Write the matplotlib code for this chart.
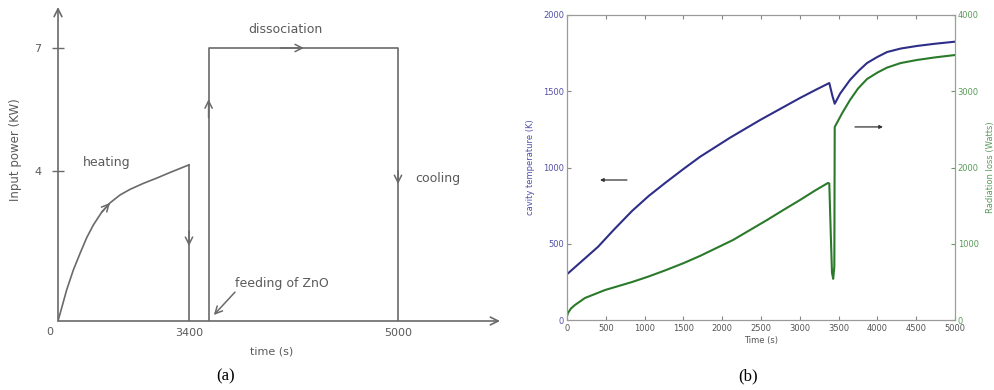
import numpy as np
import matplotlib
matplotlib.use("Agg")
import matplotlib.pyplot as plt

# ---- panel (a): schematic input power profile ----
heat_t = [0, 96, 225, 398, 571, 744, 917, 1133, 1350, 1609, 1869, 2215,
          2561, 2907, 3400]
heat_p = [0, 0.35, 0.83, 1.36, 1.80, 2.22, 2.56, 2.90, 3.15, 3.36, 3.51,
          3.67, 3.81, 3.96, 4.15]
cut_t = 3400
feed_t = 3550
cool_t = 5000
dissoc_p = 7
a_xticks = [3400, 5000]
a_yticks = [4, 7]

# ---- panel (b): simulated temperature and radiation loss ----
temp_t = [0, 200, 400, 600, 838, 1050, 1263, 1500, 1714, 2100, 2487, 2750,
          3003, 3200, 3380, 3420, 3450, 3520, 3647, 3760, 3866, 4000, 4124,
          4300, 4510, 4750, 5000]
temp_k = [300, 390, 480, 590, 715, 812, 898, 990, 1070, 1195, 1311, 1385,
          1456, 1508, 1554, 1470, 1418, 1485, 1574, 1635, 1685, 1725, 1757,
          1780, 1797, 1812, 1825]
rad_t = [0, 13, 50, 103, 232, 490, 838, 1050, 1263, 1500, 1714, 2139, 2577,
         2800, 3003, 3200, 3363, 3380, 3400, 3415, 3430, 3445, 3450, 3550,
         3647, 3750, 3866, 4000, 4124, 4300, 4510, 4750, 5000]
rad_w = [50, 92, 150, 197, 289, 393, 498, 570, 650, 745, 840, 1049, 1311,
         1450, 1574, 1700, 1797, 1790, 1100, 620, 540, 700, 2531, 2720, 2885,
         3035, 3160, 3245, 3310, 3370, 3410, 3445, 3475]

W, H = 995, 390
fig = plt.figure(figsize=(W / 100, H / 100), dpi=100)
fig.patch.set_facecolor("white")

GREY = "#5a5a5a"
LINE = "#6a6a6a"


def fwd_x(t):
    t = np.asarray(t, dtype=float)
    return np.where(t <= 3400, t * 131 / 3400, 131 + (t - 3400) * 209 / 1600)


def inv_x(p):
    p = np.asarray(p, dtype=float)
    return np.where(p <= 131, p * 3400 / 131, 3400 + (p - 131) * 1600 / 209)


def fwd_y(v):
    v = np.asarray(v, dtype=float)
    return np.where(v <= 4, v * 37.5, 150 + (v - 4) * 41)


def inv_y(p):
    p = np.asarray(p, dtype=float)
    return np.where(p <= 150, p / 37.5, 4 + (p - 150) / 41)


ax = fig.add_axes([58 / W, 69 / H, 442 / W, 314 / H])
ax.set_xscale("function", functions=(fwd_x, inv_x))
ax.set_yscale("function", functions=(fwd_y, inv_y))
xmax = float(inv_x(442))
ymax = float(inv_y(314))
ax.set_xlim(0, xmax)
ax.set_ylim(0, ymax)
for s in ax.spines.values():
    s.set_visible(False)
ax.patch.set_alpha(0)

# axes drawn as arrows
ax.annotate("", xy=(xmax, 0), xytext=(0, 0),
            arrowprops=dict(arrowstyle="->", color=LINE, lw=1.2,
                            shrinkA=0, shrinkB=0, mutation_scale=14),
            annotation_clip=False)
ax.annotate("", xy=(0, ymax), xytext=(0, 0),
            arrowprops=dict(arrowstyle="->", color=LINE, lw=1.2,
                            shrinkA=0, shrinkB=0, mutation_scale=14),
            annotation_clip=False)

# power profile
ax.plot(heat_t, heat_p, color=LINE, lw=1.2)
ax.plot([cut_t, cut_t], [heat_p[-1], 0], color=LINE, lw=1.2)
ax.plot([feed_t, feed_t, cool_t, cool_t], [0, dissoc_p, dissoc_p, 0],
        color=LINE, lw=1.2)


def chevron(x0, y0, x1, y1):
    ax.annotate("", xy=(x1, y1), xytext=(x0, y0),
                arrowprops=dict(arrowstyle="->", color=LINE, lw=1.1,
                                shrinkA=0, shrinkB=0, mutation_scale=13))


chevron(1133, 2.90, 1350, 3.15)
chevron(cut_t, 2.4, cut_t, 2.0)
chevron(feed_t, 5.3, feed_t, 5.75)
chevron(4100, dissoc_p, 4280, dissoc_p)
chevron(cool_t, 4.0, cool_t, 3.65)
chevron(3752, 0.77, 3590, 0.16)

ax.set_xticks(a_xticks)
ax.set_xticklabels([str(v) for v in a_xticks])
ax.set_yticks(a_yticks)
ax.set_yticklabels([str(v) for v in a_yticks])
ax.tick_params(axis="x", length=0, pad=5, labelsize=8, labelcolor=GREY)
ax.tick_params(axis="y", direction="inout", length=8, width=1, color=LINE,
               pad=8, labelsize=8, labelcolor=GREY)
ax.minorticks_off()
ax.text(-220, -0.3, "0", fontsize=8, color=GREY, ha="center", va="center")

ax.text(649, 4.2, "heating", fontsize=9, color=GREY, va="center")
ax.text(4135, 7.46, "dissociation", fontsize=9, color=GREY,
        ha="center", va="center")
ax.text(5130, 3.81, "cooling", fontsize=9, color=GREY, va="center")
ax.text(3752, 1.01, "feeding of ZnO", fontsize=9, color=GREY, va="center")

fig.text(16 / W, 1 - 150 / H, "Input power (KW)", rotation=90, fontsize=8.5,
         color=GREY, ha="center", va="center")
fig.text(272 / W, 1 - 352 / H, "time (s)", fontsize=8, color=GREY,
         ha="center", va="center")
fig.text(226 / W, 1 - 376 / H, "(a)", fontsize=12, family="Liberation Serif",
         ha="center", va="center")

# ---- panel (b) ----
BLUE = "#2e2e88"
GREEN = "#2b7a2b"
bx = fig.add_axes([567 / W, 70 / H, 388 / W, 305 / H])
bx2 = bx.twinx()

bx.plot(temp_t, temp_k, color=BLUE, lw=1.5)
bx2.plot(rad_t, rad_w, color=GREEN, lw=1.5)

bx.set_xlim(0, 5000)
bx.set_ylim(0, 2000)
bx2.set_ylim(0, 4000)
bx.set_xticks(np.arange(0, 5001, 500))
bx.set_yticks(np.arange(0, 2001, 500))
bx2.set_yticks(np.arange(0, 4001, 1000))

for s in bx.spines.values():
    s.set_color("#9a9a9a")
for s in bx2.spines.values():
    s.set_color("#9a9a9a")
bx2.spines["right"].set_color("#8aaa8a")

bx.tick_params(axis="x", direction="in", top=True, length=3, color="#888",
               labelsize=6, labelcolor="#555", pad=3)
bx.tick_params(axis="y", direction="in", right=False, length=3,
               color="#888", labelsize=6, labelcolor="#5050a8", pad=2)
bx2.tick_params(axis="y", direction="in", length=3, color="#6a9a6a",
                labelsize=6, labelcolor="#5a9a5a", pad=2)

bx.set_xlabel("Time (s)", fontsize=6, color="#555", labelpad=2)
bx.set_ylabel("cavity temperature (K)", fontsize=6, color="#5050a8",
              labelpad=6)
bx2.set_ylabel("Radiation loss (Watts)", fontsize=6, color="#5a9a5a",
               labelpad=5)

bx.annotate("", xy=(425, 918), xytext=(773, 918),
            arrowprops=dict(arrowstyle="-|>", color="#333", lw=0.9,
                            shrinkA=0, shrinkB=0, mutation_scale=5))
bx.annotate("", xy=(4072, 1266), xytext=(3711, 1266),
            arrowprops=dict(arrowstyle="-|>", color="#333", lw=0.9,
                            shrinkA=0, shrinkB=0, mutation_scale=5))

fig.text(748 / W, 1 - 376 / H, "(b)", fontsize=12, family="Liberation Serif",
         ha="center", va="center")

fig.savefig("out.png", dpi=100)
